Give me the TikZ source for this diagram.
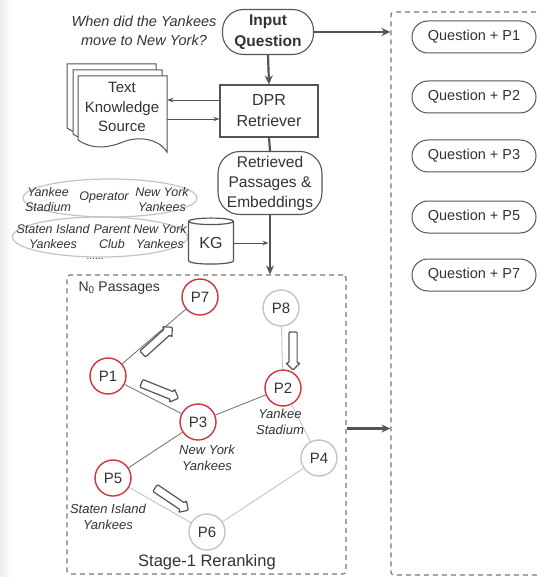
\documentclass[tikz,border=0pt]{standalone}
\usepackage{fontspec}
\setmainfont{Liberation Sans}
\usetikzlibrary{shapes.geometric,shapes.arrows,arrows.meta}

\definecolor{ink}{HTML}{555555}
\definecolor{txt}{HTML}{333333}
\definecolor{redring}{HTML}{D2343C}
\definecolor{pale}{HTML}{C4C4C4}
\definecolor{edgedark}{HTML}{7A7A7A}
\definecolor{dashgray}{HTML}{777777}

\tikzset{
  box/.style={draw=ink, line width=1.1pt, text=txt, align=center, inner sep=0pt, fill=white},
  pill/.style={box, rounded corners=#1},
  flow/.style={draw=ink, line width=2.2pt, -{Stealth[length=9pt,width=8pt]}},
  flowplain/.style={draw=ink, line width=2.2pt},
  thinflow/.style={draw=ink, line width=0.8pt, -{Stealth[length=6pt,width=4.5pt]}},
  dashframe/.style={draw=dashgray, line width=1.2pt, dash pattern=on 5pt off 4pt, rounded corners=3pt},
  hit/.style={circle, draw=redring, line width=1.4pt, fill=white, minimum size=36pt, inner sep=0pt,
    text=txt, font=\fontsize{15}{18}\selectfont},
  miss/.style={hit, draw=pale},
  strong/.style={draw=edgedark, line width=0.9pt},
  weak/.style={draw=pale, line width=0.9pt},
  entity/.style={text=txt, align=center, inner sep=0pt, font=\fontsize{12.5}{15}\selectfont\itshape},
  blockarrow/.style={single arrow, draw=ink, line width=1.2pt, fill=white, minimum height=40pt,
    inner xsep=0pt, inner ysep=3.5pt, single arrow head extend=3pt, rounded corners=1pt},
  qpill/.style={pill=16pt, minimum width=124pt, minimum height=32pt, line width=1pt,
    font=\fontsize{14.5}{17}\selectfont},
  docpage/.style={draw=ink, line width=1pt, fill=white}
}

\newcommand{\docpath}{(0,0) -- (89,0) -- (89,76)
  .. controls (80,62) and (60,60) .. (45,66)
  .. controls (30,72) and (15,74) .. (0,64) -- cycle}

\begin{document}
\begin{tikzpicture}[x=1pt,y=-1pt]
\useasboundingbox (0,0) rectangle (536,577);
\fill[white] (0,0) rectangle (536,577);
\fill[left color=black!7, right color=white] (0,0) rectangle (12,577);

% question and retrieval pipeline
\node[text=txt, align=center, font=\fontsize{14.5}{19}\selectfont\itshape] (qtext) at (144,31)
  {When did the Yankees\\move to New York?};
\node[pill=21pt, minimum width=91pt, minimum height=45pt, font=\fontsize{15.5}{21}\selectfont\bfseries]
  (iq) at (268,32) {Input\\Question};
\node[box, minimum width=98pt, minimum height=52pt, font=\fontsize{16}{21}\selectfont]
  (dpr) at (269,111) {DPR\\Retriever};
\node[pill=22pt, minimum width=104pt, minimum height=63pt, font=\fontsize{15.5}{20}\selectfont]
  (ret) at (270,183) {Retrieved\\Passages \&\\Embeddings};

% stacked document pages
\begin{scope}[shift={(67,64)}] \path[docpage] \docpath; \end{scope}
\begin{scope}[shift={(73,70)}] \path[docpage] \docpath; \end{scope}
\begin{scope}[shift={(78,76)}] \path[docpage] \docpath; \end{scope}
\node[minimum width=89pt, minimum height=76pt, inner sep=0pt] (ks) at (122.5,114) {};
\node[text=txt, align=center, font=\fontsize{15}{19.5}\selectfont] (kstext) at (122,107)
  {Text\\Knowledge\\Source};

% knowledge graph triples
\node[ellipse, draw=pale, line width=1.2pt, minimum width=174pt, minimum height=38pt] (tri1) at (110,198) {};
\node[ellipse, draw=pale, line width=1.2pt, minimum width=175pt, minimum height=40pt] (tri2) at (100,237) {};
\node[entity] (e1) at (48,200) {Yankee\\Stadium};
\node[entity] (e2) at (104,197) {Operator};
\node[entity] (e3) at (162,200) {New York\\Yankees};
\node[entity] (e4) at (53,237) {Staten Island\\Yankees};
\node[entity] (e5) at (112,237) {Parent\\Club};
\node[entity] (e6) at (160,237) {New York\\Yankees};
\node[text=txt, font=\fontsize{10}{12}\selectfont] (dots) at (95,259) {......};

\node[cylinder, shape border rotate=90, draw=ink, line width=1.2pt, fill=white, aspect=0.28,
  minimum width=45pt, minimum height=46pt, text=txt, font=\fontsize{16}{18}\selectfont, inner sep=0pt]
  (kg) at (211,243) {KG};

% stage-1 reranking frame
\node[dashframe, minimum width=279pt, minimum height=299pt, inner sep=0pt] (stage) at (206.5,424.5) {};
\node[dashframe, minimum width=175pt, minimum height=563pt, inner sep=0pt] (rbox) at (478.5,293.5) {};

\node[text=txt, anchor=west, font=\fontsize{14}{16}\selectfont] (n0) at (75,288) {N\textsubscript{0} Passages};
\node[text=txt, font=\fontsize{16.5}{19}\selectfont] (stagelbl) at (207,562) {Stage-1 Reranking};

% passage graph
\node[hit]  (p7) at (200,297) {P7};
\node[miss] (p8) at (281,308) {P8};
\node[hit]  (p1) at (108,376) {P1};
\node[hit]  (p2) at (283,388) {P2};
\node[hit]  (p3) at (198,422) {P3};
\node[miss] (p4) at (319,458) {P4};
\node[hit]  (p5) at (113,478) {P5};
\node[miss] (p6) at (207,532) {P6};

\draw[strong] (p1) -- (p7);
\draw[strong] (p1) -- (p3);
\draw[strong] (p3) -- (p2);
\draw[strong] (p3) -- (p5);
\draw[weak] (p8) -- (p2);
\draw[weak] (p2) -- (p4);
\draw[weak] (p4) -- (p6);
\draw[weak] (p5) -- (p6);

\node[entity, font=\fontsize{13}{16}\selectfont\itshape] (l2) at (280,422) {Yankee\\Stadium};
\node[entity, font=\fontsize{13}{16}\selectfont\itshape] (l3) at (207,458) {New York\\Yankees};
\node[entity, font=\fontsize{13}{16}\selectfont\itshape] (l5) at (108,517) {Staten Island\\Yankees};

\node[blockarrow, rotate=42]  (b17) at (156,342) {};
\node[blockarrow, rotate=-22] (b13) at (158,390) {};
\node[blockarrow, rotate=-90, minimum height=38pt] (b82) at (293,349) {};
\node[blockarrow, rotate=-34] (b56) at (170,498) {};

% candidate pairs
\node[qpill] (q1) at (474,37)  {Question + P1};
\node[qpill] (q2) at (474,97)  {Question + P2};
\node[qpill] (q3) at (474,156) {Question + P3};
\node[qpill] (q5) at (474,217) {Question + P5};
\node[qpill] (q7) at (474,275) {Question + P7};

% connectors
\draw[flow] (iq.south) -- (dpr.north);
\draw[flow] (iq.east) -- (iq.east -| rbox.west);
\draw[thinflow] ([yshift=11pt]dpr.west) -- ([yshift=11pt]dpr.west -| ks.east);
\draw[thinflow] ([yshift=-8pt]dpr.west -| ks.east) -- ([yshift=-8pt]dpr.west);
\draw[flowplain] (dpr.south) -- (ret.north);
\coordinate (join) at (ret.south |- stage.north);
\draw[flow] (ret.south) -- (join);
\draw[thinflow, shorten >=1.5pt] (kg.east) -- (kg.east -| ret.south);
\draw[flow] ([yshift=-4pt]stage.east) -- ([yshift=-4pt]stage.east -| rbox.west);
\end{tikzpicture}
\end{document}
